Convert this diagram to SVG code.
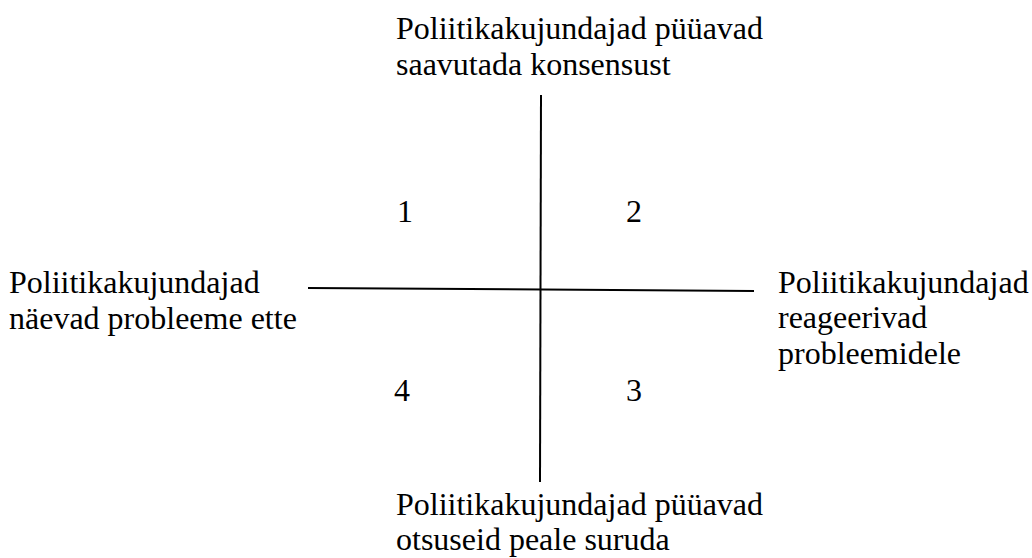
<svg xmlns="http://www.w3.org/2000/svg" width="1032" height="558" viewBox="0 0 1032 558">
<style>
text{font-family:"Liberation Serif","Times New Roman",serif;font-size:32px;fill:#000}
.ax{stroke:#000;stroke-width:2;fill:none}
</style>
<rect width="1032" height="558" fill="#fff"/>
<g id="connectors">
<line class="ax" x1="541" y1="95" x2="540" y2="482"/>
<line class="ax" x1="308" y1="288" x2="754" y2="291"/>
</g>
<g id="top"><text x="396" y="39">Poliitikakujundajad püüavad</text><text x="396" y="75">saavutada konsensust</text></g>
<g id="left"><text x="9" y="293">Poliitikakujundajad</text><text x="9" y="329">näevad probleeme ette</text></g>
<g id="right"><text x="778" y="293">Poliitikakujundajad</text><text x="778" y="328">reageerivad</text><text x="778" y="364">probleemidele</text></g>
<g id="bottom"><text x="396" y="515">Poliitikakujundajad püüavad</text><text x="396" y="550">otsuseid peale suruda</text></g>
<g id="q1"><text x="397" y="222">1</text></g>
<g id="q2"><text x="626" y="222">2</text></g>
<g id="q3"><text x="626" y="401">3</text></g>
<g id="q4"><text x="394" y="401">4</text></g>
</svg>
